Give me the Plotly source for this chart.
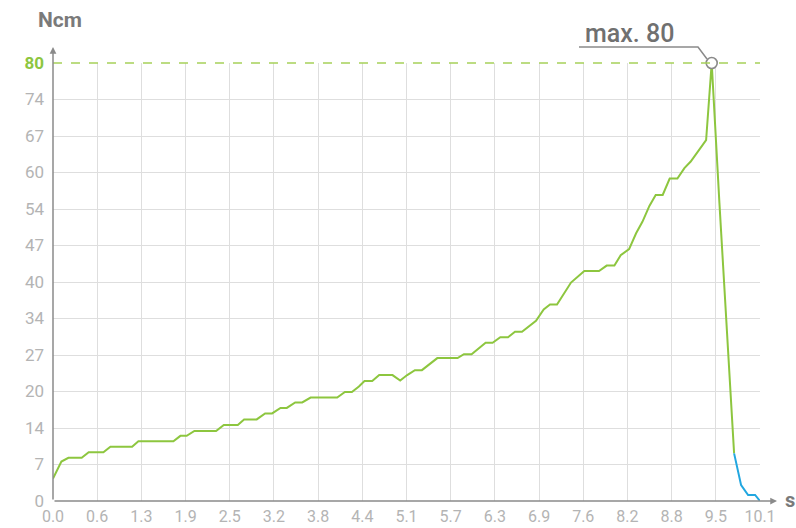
import plotly.graph_objects as go

# ---- data ----
time_s = [0.00, 0.12, 0.22, 0.41, 0.51, 0.72, 0.82, 1.13, 1.22, 1.72, 1.82, 1.91,
          2.02, 2.33, 2.44, 2.64, 2.73, 2.91, 3.03, 3.13, 3.25, 3.34, 3.46, 3.56,
          3.68, 4.06, 4.17, 4.27, 4.37, 4.45, 4.56, 4.66, 4.85, 4.96, 5.06, 5.17,
          5.27, 5.39, 5.49, 5.78, 5.87, 5.98, 6.18, 6.28, 6.39, 6.50, 6.60, 6.70,
          6.90, 7.01, 7.10, 7.20, 7.40, 7.59, 7.80, 7.91, 8.02, 8.11, 8.23, 8.33,
          8.42, 8.52, 8.61, 8.71, 8.81, 8.92, 9.02, 9.11, 9.33, 9.41, 9.52, 9.73]
torque_ncm = [4.1, 7.2, 7.9, 7.9, 8.9, 8.9, 9.9, 9.9, 10.9, 10.9, 11.9, 11.9,
              12.8, 12.8, 13.9, 13.9, 14.9, 14.9, 16.0, 16.0, 17.0, 17.0, 18.0, 18.0,
              18.9, 18.9, 19.9, 19.9, 20.9, 21.9, 21.9, 23.0, 23.0, 22.0, 23.0, 23.9,
              23.9, 25.1, 26.1, 26.1, 26.8, 26.8, 28.9, 28.9, 29.9, 29.9, 30.9, 30.9,
              32.9, 35.0, 35.9, 35.9, 39.9, 42.0, 42.0, 43.0, 43.0, 44.9, 46.0, 48.9,
              51.0, 53.9, 55.9, 55.9, 58.9, 58.9, 60.8, 62.0, 65.9, 80.0, 54.5, 8.7]

release_s = [9.73, 9.83, 9.93, 10.03, 10.10]
release_ncm = [8.7, 2.9, 1.1, 1.1, 0.0]

max_s = 9.41
max_ncm = 80

x_tick_vals = [k * 10.1 / 16 for k in range(17)]
x_tick_text = ["0.0", "0.6", "1.3", "1.9", "2.5", "3.2", "3.8", "4.4", "5.1",
               "5.7", "6.3", "6.9", "7.6", "8.2", "8.8", "9.5", "10.1"]
y_tick_vals = [k * 80 / 12 for k in range(13)]
y_tick_text = ["0", "7", "14", "20", "27", "34", "40", "47", "54", "60", "67", "74",
               "<span style='color:#8dc63f'><b>80</b></span>"]

GREEN = "#8dc63f"
BLUE = "#22a7e0"
GREY = "#8a8a8a"
LABEL = "#b4b4b4"
FONT = "Roboto"

fig = go.Figure()
fig.add_trace(go.Scatter(x=time_s, y=torque_ncm, mode="lines",
                         line=dict(color=GREEN, width=2), hoverinfo="skip"))
fig.add_trace(go.Scatter(x=release_s, y=release_ncm, mode="lines",
                         line=dict(color=BLUE, width=2), hoverinfo="skip"))

W, H = 707.0, 438.0
def px(p):
    return (p - 53) / W
def py(p):
    return (501 - p) / H

# dashed max line (paper coords so it is not clipped at the plot edge)
fig.add_shape(type="line", xref="paper", yref="paper", x0=0, x1=1, y0=1, y1=1,
              line=dict(color="#a6d15a", width=1.6, dash="dash"), layer="above")

# leader line for max label
fig.add_shape(type="path", xref="paper", yref="paper",
              path=f"M {px(579)} {py(47)} L {px(698)} {py(47)} L {px(707)} {py(59)}",
              line=dict(color=GREY, width=1.5))

fig.add_trace(go.Scatter(x=[max_s], y=[max_ncm], mode="markers", cliponaxis=False,
                         marker=dict(size=11, color="white", line=dict(color=GREY, width=1.6)),
                         hoverinfo="skip"))

# axis arrows
fig.add_annotation(xref="paper", yref="paper", x=0, y=py(47), ax=0, ay=454,
                   axref="pixel", ayref="pixel", text="", showarrow=True,
                   arrowhead=2, arrowsize=0.9, arrowwidth=1.5, arrowcolor=GREY)
fig.add_annotation(xref="paper", yref="paper", x=px(777), y=0, ax=-724, ay=0,
                   text="", showarrow=True,
                   arrowhead=2, arrowsize=0.9, arrowwidth=1.5, arrowcolor=GREY)

fig.add_annotation(xref="paper", yref="paper", x=px(60), y=py(20), xanchor="center",
                   yanchor="middle", text="Ncm", showarrow=False,
                   font=dict(family=FONT, size=21, color="#7a7a7a", weight="bold"))
fig.add_annotation(xref="paper", yref="paper", x=px(790), y=py(500), xanchor="center",
                   yanchor="middle", text="s", showarrow=False,
                   font=dict(family=FONT, size=20, color="#7a7a7a", weight="bold"))
fig.add_annotation(xref="paper", yref="paper", x=px(629), y=py(50), xanchor="center",
                   yanchor="bottom", text="max. 80", showarrow=False,
                   font=dict(family=FONT, size=25, color="#707070", weight=500))

fig.update_layout(
    width=796, height=528,
    margin=dict(l=53, r=36, t=63, b=27, autoexpand=False),
    paper_bgcolor="white", plot_bgcolor="white",
    showlegend=False,
    xaxis=dict(range=[0, 10.1], tickvals=x_tick_vals, ticktext=x_tick_text,
               showgrid=True, gridcolor="#dedede", gridwidth=1, zeroline=False,
               showline=False, ticks="", ticklabelstandoff=4, automargin=False,
               tickfont=dict(family=FONT, size=16, color=LABEL)),
    yaxis=dict(range=[0, 80], tickvals=y_tick_vals, ticktext=y_tick_text,
               showgrid=True, gridcolor="#dedede", gridwidth=1, zeroline=False,
               showline=False, ticks="", ticklabelstandoff=8, automargin=False,
               tickfont=dict(family=FONT, size=17, color=LABEL)),
)

fig.write_html("out.html", config={"displayModeBar": False},
               post_script="document.body.style.margin='0';document.body.style.overflow='hidden';")
